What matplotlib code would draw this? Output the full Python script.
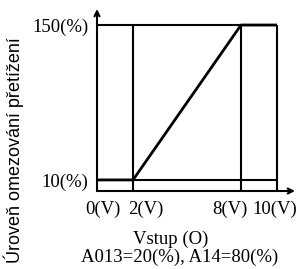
import matplotlib

matplotlib.use("Agg")
import matplotlib.pyplot as plt
from matplotlib.transforms import ScaledTranslation

# curve: input voltage (V) -> overload limit level (%)
curve_x = [0, 2, 8, 10]
curve_y = [10, 10, 150, 150]

x_ticks = [0, 2, 8, 10]
x_tick_labels = ["0(V)", "2(V)", "8(V)", "10(V)"]
y_ticks = [10, 150]
y_tick_labels = ["10(%)", "150(%)"]

guide_x = [2, 8, 10]
y_max = 150
x_max = 10

SERIF = "Liberation Serif"
SANS = "Liberation Sans"

# horizontal nudges of the x tick labels (pixels), as in the original drawing
LABEL_SHIFT_PX = [6, 13, -11, -2]


def main() -> None:
    fig = plt.figure(figsize=(3.06, 2.69), dpi=100)
    ax = fig.add_axes([97 / 306, 1 - 191 / 269, 198 / 306, 182 / 269])
    ax.set_xlim(0, 11)
    ax.set_ylim(0, 164.5)
    for s in ax.spines.values():
        s.set_visible(False)

    lw = 1.5
    # frame / guide lines
    ax.plot([0, x_max], [y_max, y_max], color="black", lw=lw, solid_capstyle="butt")
    ax.plot([0, x_max], [y_ticks[0], y_ticks[0]], color="black", lw=lw, solid_capstyle="butt")
    for gx in guide_x:
        ax.plot([gx, gx], [0, y_max], color="black", lw=lw, solid_capstyle="butt")

    # characteristic
    ax.plot(curve_x, curve_y, color="black", lw=2.0, solid_capstyle="butt")

    # axes with arrows
    arrow = dict(arrowstyle="->", color="black", lw=1.5, mutation_scale=9,
                 shrinkA=0, shrinkB=0)
    ax.annotate("", xy=(0, 1), xytext=(0, 0), xycoords="axes fraction",
                textcoords="axes fraction", arrowprops=arrow)
    ax.annotate("", xy=(1, 0), xytext=(0, 0), xycoords="axes fraction",
                textcoords="axes fraction", arrowprops=arrow)

    ax.set_xticks(x_ticks)
    ax.set_xticklabels(x_tick_labels, fontfamily=SERIF, fontsize=13.5)
    ax.set_yticks(y_ticks)
    ax.set_yticklabels(y_tick_labels, fontfamily=SERIF, fontsize=13.5)
    ax.tick_params(axis="x", length=0, pad=7)
    ax.tick_params(axis="y", length=0, pad=6)
    for lab, dx in zip(ax.get_xticklabels(), LABEL_SHIFT_PX):
        lab.set_transform(lab.get_transform()
                          + ScaledTranslation(dx / 100, 0, fig.dpi_scale_trans))

    fig.text(171 / 306, 1 - 239 / 269, "Vstup (O)", ha="center", va="center",
             fontfamily=SERIF, fontsize=13.5)
    fig.text(180 / 306, 1 - 257 / 269, "A013=20(%), A14=80(%)", ha="center",
             va="center", fontfamily=SERIF, fontsize=13.5)
    fig.text(14 / 306, 1 - 150 / 269, "Úroveň omezování přetížení", rotation=90,
             ha="center", va="center", fontfamily=SANS, fontsize=13)

    fig.savefig("out.png", dpi=100)
    plt.close(fig)


if __name__ == "__main__":
    main()
